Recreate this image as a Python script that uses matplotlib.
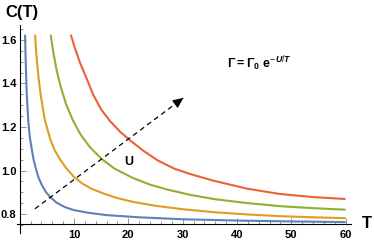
"""
Heat capacity C(T) curves for increasing activation energy U,
with the Arrhenius rate law annotated in the corner.

Output: out.png
"""

import matplotlib
matplotlib.use("Agg")
import matplotlib.pyplot as plt
from matplotlib.ticker import MultipleLocator

BLUE = "#5E81B5"
ORANGE = "#E19C24"
GREEN = "#8FB032"
RED = "#EB6235"
TICK = "#808080"

# values, one (T, C) list per curve
t_blue = [0.98, 1.1, 1.29, 1.58, 1.85, 2.2, 2.55, 2.95, 3.45, 4.05, 4.8,
          5.6, 6.8, 8.3, 10, 12.6, 16, 22, 30, 40, 50, 60]
c_blue = [1.624, 1.50, 1.35, 1.226, 1.155, 1.10, 1.05, 1.011, 0.968, 0.935,
          0.902, 0.878, 0.852, 0.832, 0.818, 0.806, 0.795, 0.785, 0.776,
          0.770, 0.766, 0.763]

t_orange = [2.82, 3.1, 3.45, 3.9, 4.6, 5.6, 6.5, 7.4, 8.5, 10, 11.6, 13.3,
            15.7, 18, 21, 25, 30, 36, 42, 48, 54, 60]
c_orange = [1.624, 1.52, 1.43, 1.34, 1.235, 1.145, 1.09, 1.052, 1.013, 0.970,
            0.939, 0.915, 0.892, 0.873, 0.855, 0.838, 0.822, 0.808, 0.798,
            0.790, 0.785, 0.781]

t_green = [5.7, 6.2, 6.8, 7.6, 8.6, 9.8, 11.2, 13, 15.1, 17.5, 20.9, 24,
           27.1, 31.4, 36, 42, 48, 54, 60]
c_green = [1.624, 1.54, 1.46, 1.38, 1.30, 1.23, 1.165, 1.105, 1.053, 1.008,
           0.965, 0.935, 0.913, 0.888, 0.868, 0.850, 0.836, 0.827, 0.820]

t_red = [9.4, 10.2, 11.1, 12.2, 13.5, 15.0, 16.7, 18.5, 20.5, 22.8, 25.5,
         28.5, 31.5, 35.7, 41.8, 47.9, 54, 60]
c_red = [1.624, 1.56, 1.495, 1.43, 1.35, 1.28, 1.225, 1.178, 1.135, 1.09,
         1.045, 1.008, 0.983, 0.953, 0.917, 0.892, 0.878, 0.869]

arrow_start = (2.8, 0.824)
arrow_end = (30.1, 1.333)

x_ticks = [10, 20, 30, 40, 50, 60]
y_ticks = [0.8, 1.0, 1.2, 1.4, 1.6]

plt.rcParams["font.family"] = ["Liberation Sans", "DejaVu Sans"]
plt.rcParams["mathtext.fontset"] = "custom"
plt.rcParams["mathtext.bf"] = "Liberation Sans:bold"
plt.rcParams["mathtext.rm"] = "Liberation Sans"
plt.rcParams["mathtext.it"] = "Liberation Sans:italic:bold"

fig = plt.figure(figsize=(3.74, 2.44), dpi=100, facecolor="white")
ax = fig.add_axes([0.0455, 0.047, 0.893, 0.85])

for t, c, col in [(t_blue, c_blue, BLUE), (t_orange, c_orange, ORANGE),
                  (t_green, c_green, GREEN), (t_red, c_red, RED)]:
    ax.plot(t, c, color=col, lw=1.5, solid_capstyle="butt",
            solid_joinstyle="round")

# dashed shaft + solid head
ax.plot([arrow_start[0], arrow_end[0]], [arrow_start[1], arrow_end[1]],
        color="black", lw=0.9, ls=(0, (4, 3)))
ax.annotate("", xy=arrow_end,
            xytext=(arrow_end[0] - 1.2, arrow_end[1] - 1.2 * 0.509 / 27.3),
            arrowprops=dict(arrowstyle="-|>,head_length=0.6,head_width=0.28",
                            color="black", lw=0.9, shrinkA=0, shrinkB=0))

ax.text(20.0, 1.038, "U", fontsize=9, fontweight="bold",
        ha="center", va="center")
ax.text(44.2, 1.49, r"$\mathbf{\Gamma = \Gamma_0\ e}^{-U/T}$", fontsize=9,
        ha="center", va="center")

ax.set_xlim(-0.5, 61)
ax.set_ylim(0.715, 1.668)

for side in ["top", "right"]:
    ax.spines[side].set_visible(False)
ax.spines["left"].set_position(("data", 0))
ax.spines["bottom"].set_position(("data", 0.755))
for side in ["left", "bottom"]:
    ax.spines[side].set_color("black")
    ax.spines[side].set_linewidth(0.8)

ax.set_xticks(x_ticks)
ax.set_xticklabels([str(v) for v in x_ticks])
ax.set_yticks(y_ticks)
ax.set_yticklabels([f"{v:.1f}" for v in y_ticks])
ax.xaxis.set_minor_locator(MultipleLocator(2))
ax.yaxis.set_minor_locator(MultipleLocator(0.05))
ax.tick_params(which="both", direction="in", color=TICK, width=0.6)
ax.tick_params(which="major", length=4)
ax.tick_params(which="minor", length=2)
ax.tick_params(axis="x", which="major", pad=4.5)
ax.tick_params(axis="y", which="major", pad=2.5)
for lbl in ax.get_xticklabels() + ax.get_yticklabels():
    lbl.set_fontsize(8)
    lbl.set_fontweight("bold")

fig.text(5 / 374, 1 - 12 / 244, "C(T)", fontsize=12, fontweight="bold",
         ha="left", va="center")
fig.text(367 / 374, 1 - 224 / 244, "T", fontsize=12, fontweight="bold",
         ha="center", va="center")

fig.savefig("out.png", dpi=100, facecolor="white")
plt.close(fig)
